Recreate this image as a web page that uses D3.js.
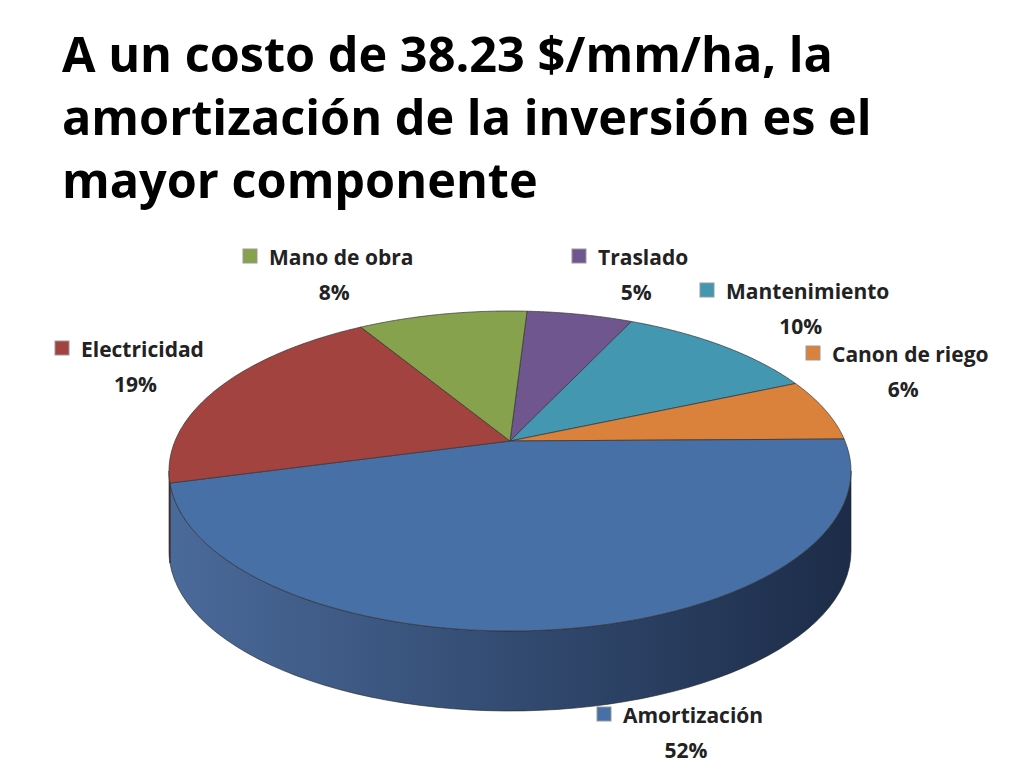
<!DOCTYPE html>
<html><head><meta charset="utf-8">
<script src="https://cdn.jsdelivr.net/npm/d3@7"></script>
<style>body{margin:0;background:#fff}</style></head>
<body><svg id="c" width="1024" height="768"></svg>
<script>
const titleLines = ["A un costo de 38.23 $/mm/ha, la","amortización de la inversión es el","mayor componente"];
const categories = ["Traslado","Mantenimiento","Canon de riego","Amortización","Electricidad","Mano de obra"];
const values = [5,10,6,52,19,8];
const colors = ["#6f568f","#4397b0","#da823c","#4770a6","#a2433f","#86a24c"];
const sideDark = ["#4a3a60","#2d6577","#9a5a28","#1c2c48","#6e2d2a","#5b6e33"];
const sideLight = ["#5c4878","#367d92","#b86c30","#4a6a9a","#8a3834","#6f8a3e"];
const labelPos = [[572,249],[700,283],[806,346],[597,707],[55,341],[243,249]];

const svg = d3.select("#c");
const ff = "'Open Sans', Lato, sans-serif";
const tt = svg.selectAll("text.t").data(titleLines).enter().append("text")
  .attr("x",62).attr("y",(d,i)=>72+i*63).attr("font-family",ff).attr("font-weight","bold")
  .attr("font-size",44).attr("fill","#000").text(d=>d);
const w0 = tt.nodes()[0].getComputedTextLength();
tt.attr("font-size", 44*771/w0);

const cx=510, cy=471, rx=341, ry=160, apexY=441, depth=80;
const pie = d3.pie().sort(null).startAngle(0.05).endAngle(2*Math.PI+0.05);
const arcs = pie(values);
const pt = (a,dy=0)=>[cx+rx*Math.sin(a), cy-ry*Math.cos(a)+dy];
const defs = svg.append("defs");
arcs.forEach((d,i)=>{
  const g=defs.append("linearGradient").attr("id","g"+i).attr("x1","0").attr("x2","1").attr("y1","0").attr("y2","0");
  g.append("stop").attr("offset","0").attr("stop-color",sideLight[i]);
  g.append("stop").attr("offset","1").attr("stop-color",sideDark[i]);
});
arcs.forEach((d,i)=>{
  let a0=Math.max(d.startAngle,Math.PI/2), a1=Math.min(d.endAngle,3*Math.PI/2);
  if(a1<=a0) return;
  const n=60, top=[], bot=[];
  for(let k=0;k<=n;k++){const a=a0+(a1-a0)*k/n; top.push(pt(a)); bot.push(pt(a,depth));}
  const p=d3.path(); p.moveTo(...top[0]); top.slice(1).forEach(q=>p.lineTo(...q));
  bot.reverse().forEach(q=>p.lineTo(...q)); p.closePath();
  svg.append("path").attr("d",p.toString()).attr("fill",`url(#g${i})`).attr("stroke","#222").attr("stroke-width",0.6);
});
arcs.forEach((d,i)=>{
  const n=80, p=d3.path(); p.moveTo(cx,apexY);
  for(let k=0;k<=n;k++){const a=d.startAngle+(d.endAngle-d.startAngle)*k/n; p.lineTo(...pt(a));}
  p.closePath();
  svg.append("path").attr("d",p.toString()).attr("fill",colors[i]).attr("stroke","#333").attr("stroke-width",0.7);
});
arcs.forEach((d,i)=>{
  const [x,y]=labelPos[i];
  svg.append("rect").attr("x",x).attr("y",y).attr("width",14).attr("height",14).attr("fill",colors[i]).attr("stroke","#999");
  const t=svg.append("text").attr("x",x+26).attr("y",y+16).attr("font-family",ff).attr("font-weight","bold")
    .attr("font-size",21).attr("fill","#222").text(categories[i]);
  const w=t.node().getComputedTextLength();
  svg.append("text").attr("x",x+(26+w)/2+6).attr("y",y+51).attr("text-anchor","middle").attr("font-family",ff)
    .attr("font-weight","bold").attr("font-size",21).attr("fill","#222").text(values[i]+"%");
});
</script></body></html>
